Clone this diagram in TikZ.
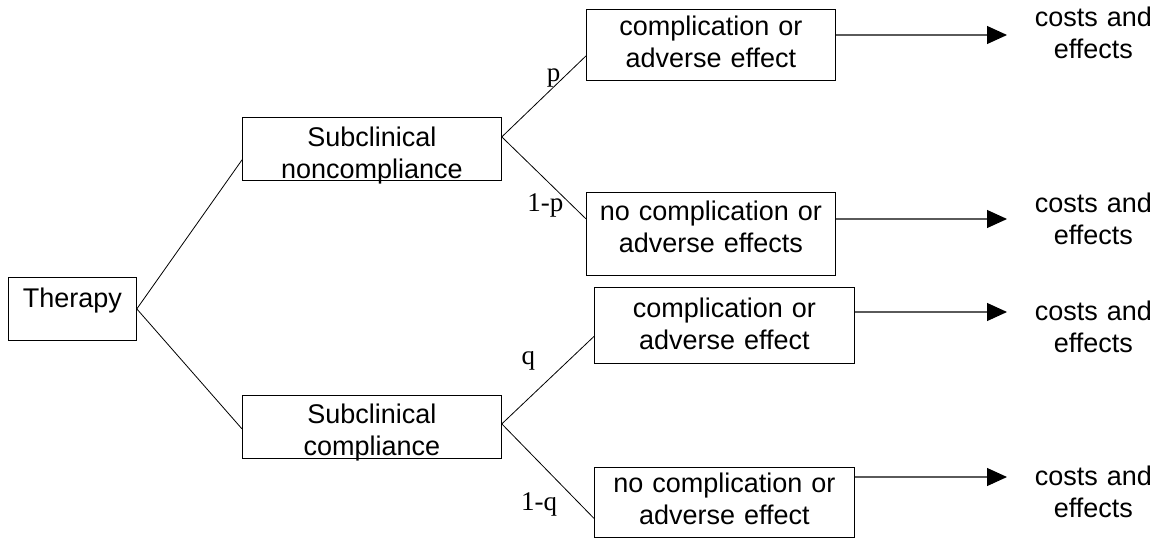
\documentclass[tikz,border=0pt]{standalone}
\usepackage{fontspec}
\setmainfont{Liberation Sans}
\newfontfamily\lblfont{Liberation Serif}
\usetikzlibrary{positioning, arrows.meta}
\definecolor{cL}{RGB}{90,90,90}

\begin{document}
\begin{tikzpicture}[x=1pt, y=-1pt, line width=0.8pt,
    box/.style={draw, inner sep=0pt, anchor=north west, align=center,
                font=\fontsize{27}{32}\selectfont},
    cst/.style={inner sep=0pt, anchor=west, text width=140pt, align=center,
                font=\fontsize{27}{32}\selectfont},
    prob/.style={inner sep=0pt, font=\lblfont\fontsize{27}{32}\selectfont},
    arr/.style={draw=cL, line width=1.1pt, -{Triangle[length=20pt, width=18pt, color=black]}, shorten >=16pt}]
    \useasboundingbox (0,0) rectangle (1159,546);

    % tree boxes
    \node[box, text width=128pt, text height=30pt, text depth=33pt] (T) at (8,277) {Therapy};
    \node[box, text width=259pt, text height=29pt, text depth=34pt] (N) at (242,117) {Subclinical\\noncompliance};
    \node[box, text width=259pt, text height=28pt, text depth=35pt] (P) at (242,395) {Subclinical\\compliance};
    \node[box, text width=249pt, text height=26pt, text depth=45pt] (C1) at (586,9) {complication or\\adverse effect};
    \node[box, text width=249pt, text height=28pt, text depth=55pt] (N1) at (586,192) {no complication or\\adverse effects};
    \node[box, text width=260pt, text height=30pt, text depth=46pt] (C2) at (594,287) {complication or\\adverse effect};
    \node[box, text width=260pt, text height=25pt, text depth=45pt] (N2) at (594,467) {no complication or\\adverse effect};

    % outcomes
    \node[cst, text height=20pt, text depth=36pt] (E1) at (1023,35) {costs and\\effects};
    \node[cst, text height=20pt, text depth=34pt] (E2) at (1023,219) {costs and\\effects};
    \node[cst, text height=36pt, text depth=20pt] (E3) at (1023,312) {costs and\\effects};
    \node[cst, text height=36pt, text depth=20pt] (E4) at (1023,477) {costs and\\effects};

    \draw (T.east) -- ([yshift=-11pt]N.west);
    \draw (T.east) -- ([yshift=-2pt]P.west);
    \draw ([yshift=12pt]N.east) -- node[prob, pos=0.725, left=2pt] (lp) {p} ([yshift=-11pt]C1.west);
    \draw ([yshift=12pt]N.east) -- node[prob, pos=0.83, left=8pt] (lnp) {1-p} ([yshift=15pt]N1.west);
    \draw ([yshift=3pt]P.east) -- node[prob, pos=0.724, left=33pt] (lq) {q} ([yshift=-11pt]C2.west);
    \draw ([yshift=3pt]P.east) -- node[prob, pos=0.853, left=23pt] (lnq) {1-q} ([yshift=-16pt]N2.west);

    \draw[arr] (C1.east |- E1.west) -- (E1.west);
    \draw[arr] (N1.east |- E2.west) -- (E2.west);
    \draw[arr] (C2.east |- E3.west) -- (E3.west);
    \draw[arr] (N2.east |- E4.west) -- (E4.west);
\end{tikzpicture}
\end{document}
